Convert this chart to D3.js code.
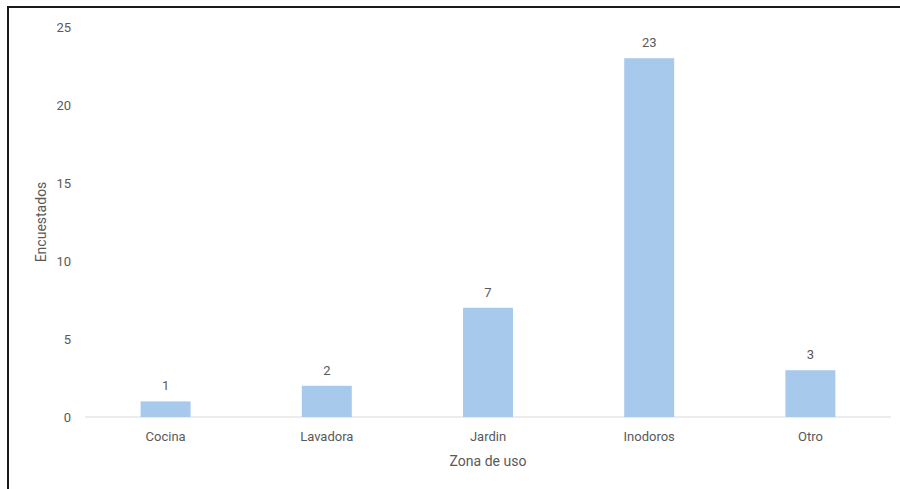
<!DOCTYPE html>
<html>
<head>
<meta charset="utf-8">
<script src="https://cdn.jsdelivr.net/npm/d3@7"></script>
<style>
  html, body { margin: 0; padding: 0; background: #fff; }
  svg { display: block; }
  text { font-family: Roboto, "Open Sans", sans-serif; fill: #595959; }
</style>
</head>
<body>
<svg id="chart" width="900" height="489"></svg>
<script>
// Survey responses by water-use area
const categories = ["Cocina", "Lavadora", "Jardin", "Inodoros", "Otro"];
const values = [1, 2, 7, 23, 3];
const yTicks = [0, 5, 10, 15, 20, 25];
const xTitle = "Zona de uso";
const yTitle = "Encuestados";

const W = 900, H = 489;
const plot = { left: 85, right: 891, top: 27, bottom: 417 };

const svg = d3.select("#chart");

// outer frame
svg.append("rect")
  .attr("x", 8).attr("y", 7)
  .attr("width", W).attr("height", H)
  .attr("fill", "none")
  .attr("stroke", "#1a1a1a")
  .attr("stroke-width", 2);

const x = d3.scaleBand()
  .domain(categories)
  .range([plot.left, plot.right])
  .paddingInner(0.69)
  .paddingOuter(0.345);

const y = d3.scaleLinear()
  .domain([0, 25])
  .range([plot.bottom, plot.top]);

// y tick labels
svg.append("g")
  .selectAll("text")
  .data(yTicks)
  .join("text")
  .attr("x", 71)
  .attr("y", d => y(d))
  .attr("dy", "0.35em")
  .attr("text-anchor", "end")
  .attr("font-size", 13)
  .text(d => d);

// baseline
svg.append("line")
  .attr("x1", plot.left).attr("x2", plot.right)
  .attr("y1", y(0)).attr("y2", y(0))
  .attr("stroke", "#d9d9d9")
  .attr("stroke-width", 1);

// bars
svg.append("g")
  .selectAll("rect")
  .data(categories)
  .join("rect")
  .attr("x", d => x(d))
  .attr("y", (d, i) => y(values[i]))
  .attr("width", x.bandwidth())
  .attr("height", (d, i) => y(0) - y(values[i]))
  .attr("fill", "#a7caec");

// value labels
svg.append("g")
  .selectAll("text")
  .data(categories)
  .join("text")
  .attr("x", d => x(d) + x.bandwidth() / 2)
  .attr("y", (d, i) => y(values[i]) - 11)
  .attr("text-anchor", "middle")
  .attr("font-size", 13)
  .text((d, i) => values[i]);

// category labels
svg.append("g")
  .selectAll("text")
  .data(categories)
  .join("text")
  .attr("x", d => x(d) + x.bandwidth() / 2)
  .attr("y", 441)
  .attr("text-anchor", "middle")
  .attr("font-size", 13)
  .text(d => d);

// axis titles
svg.append("text")
  .attr("x", (plot.left + plot.right) / 2)
  .attr("y", 466)
  .attr("text-anchor", "middle")
  .attr("font-size", 14)
  .text(xTitle);

svg.append("text")
  .attr("transform", `translate(46, ${(plot.top + plot.bottom) / 2}) rotate(-90)`)
  .attr("text-anchor", "middle")
  .attr("font-size", 14)
  .text(yTitle);
</script>
</body>
</html>
